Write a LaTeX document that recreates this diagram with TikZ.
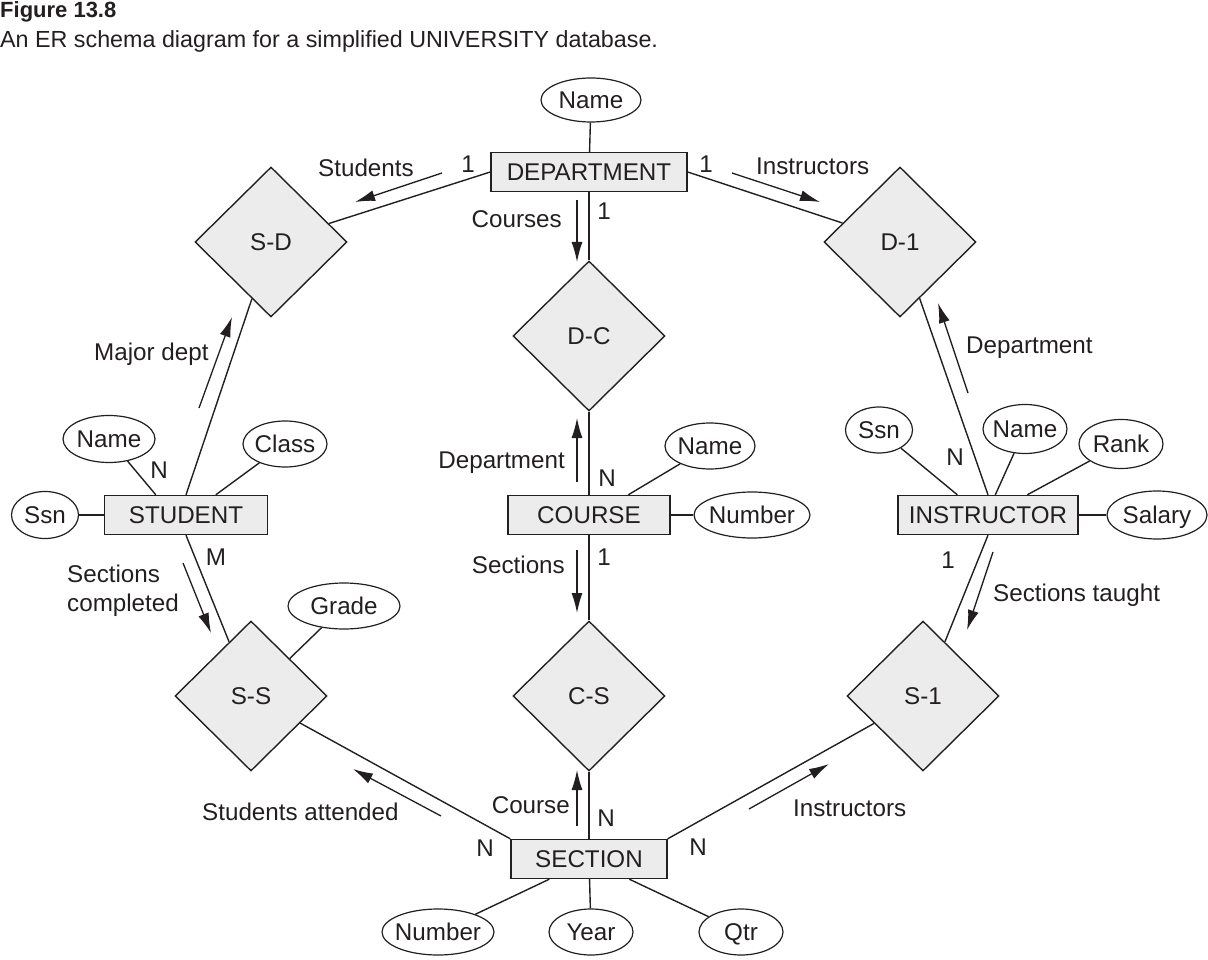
\documentclass[tikz,border=0pt]{standalone}
\usepackage{fontspec}
\setmainfont{Liberation Sans}
\usetikzlibrary{shapes.geometric,arrows.meta}
\definecolor{ink}{RGB}{35,31,32}
\definecolor{boxfill}{RGB}{236,236,236}
\begin{document}
\begin{tikzpicture}[x=1pt,y=-1pt,
  font=\fontsize{24.2}{29}\selectfont,
  ent/.style={draw=ink, fill=boxfill, line width=1.4pt, minimum height=39pt, inner sep=0pt, text height=17.3pt, text depth=0pt, text=ink},
  rel/.style={diamond, draw=ink, fill=boxfill, line width=1.4pt, minimum width=152pt, minimum height=150pt, inner sep=0pt, text height=17.3pt, text depth=0pt, text=ink},
  attr/.style={ellipse, draw=ink, fill=white, line width=1.2pt, inner sep=0pt, text height=17.3pt, text depth=0pt, text=ink},
  lbl/.style={inner sep=0pt, text height=17.3pt, text depth=0pt, text=ink},
  conn/.style={draw=ink, line width=1.4pt},
  arr/.style={draw=ink, line width=1.3pt, -{Latex[length=20pt,width=11pt]}}
]
\useasboundingbox (0,0) rectangle (1208,960);

% titles
\node[inner sep=0pt, anchor=west, text height=16pt, text depth=0pt, text=ink, font=\fontsize{22}{26}\selectfont\bfseries] (title) at (0,9.5) {Figure 13.8};
\node[inner sep=0pt, anchor=west, text height=16.7pt, text depth=0pt, text=ink, font=\fontsize{23.3}{27}\selectfont] (subtitle) at (0,39.5) {An ER schema diagram for a simplified UNIVERSITY database.};

% entities
\node[ent, minimum width=196pt] (dept) at (589,172) {DEPARTMENT};
\node[ent, minimum width=162pt] (course) at (589,515) {COURSE};
\node[ent, minimum width=156pt] (section) at (589,859) {SECTION};
\node[ent, minimum width=163pt] (student) at (186,515) {STUDENT};
\node[ent, minimum width=180pt] (instr) at (988,515) {INSTRUCTOR};

% relationships
\node[rel] (sd) at (271,242) {S-D};
\node[rel] (d1) at (900,242) {D-1};
\node[rel] (dc) at (589,336) {D-C};
\node[rel] (cs) at (589,696) {C-S};
\node[rel] (ss) at (251,696) {S-S};
\node[rel] (s1) at (923,696) {S-1};

% attributes
\node[attr, minimum width=100pt, minimum height=44pt] (dname) at (591,100) {\makebox[0pt]{Name}};
\node[attr, minimum width=92pt, minimum height=47pt] (sname) at (109,439) {\makebox[0pt]{Name}};
\node[attr, minimum width=84pt, minimum height=46pt] (sclass) at (285,444) {\makebox[0pt]{Class}};
\node[attr, minimum width=67pt, minimum height=47pt] (sssn) at (45,515) {\makebox[0pt]{Ssn}};
\node[attr, minimum width=112pt, minimum height=46pt] (grade) at (344,606) {\makebox[0pt]{Grade}};
\node[attr, minimum width=90pt, minimum height=46pt] (cname) at (710,446) {\makebox[0pt]{Name}};
\node[attr, minimum width=116pt, minimum height=46pt] (cnum) at (752,515) {\makebox[0pt]{Number}};
\node[attr, minimum width=112pt, minimum height=46pt] (snum) at (438,932) {\makebox[0pt]{Number}};
\node[attr, minimum width=84pt, minimum height=46pt] (year) at (591,932) {\makebox[0pt]{Year}};
\node[attr, minimum width=84pt, minimum height=46pt] (qtr) at (741,932) {\makebox[0pt]{Qtr}};
\node[attr, minimum width=67pt, minimum height=46pt] (issn) at (879,430) {\makebox[0pt]{Ssn}};
\node[attr, minimum width=84pt, minimum height=49pt] (iname) at (1025,429) {\makebox[0pt]{Name}};
\node[attr, minimum width=84pt, minimum height=49pt] (rank) at (1121,444) {\makebox[0pt]{Rank}};
\node[attr, minimum width=100pt, minimum height=48pt] (salary) at (1157,515) {\makebox[0pt]{Salary}};

% connectors
\draw[conn] (dname) -- (dept);
\draw[conn] (dept.west) -- (sd);
\draw[conn] (dept.east) -- (d1);
\draw[conn] (dept) -- (dc);
\draw[conn] (dc) -- (course);
\draw[conn] (course) -- (cs);
\draw[conn] (cs) -- (section);
\draw[conn] (cname) -- ([shift={(121,0)}]course.north west);
\draw[conn] (cnum) -- (course.east);
\draw[conn] (student.north) -- (sd);
\draw[conn] (student.south) -- (ss);
\draw[conn] (sname) -- ([shift={(52,0)}]student.north west);
\draw[conn] (sclass) -- ([shift={(112,0)}]student.north west);
\draw[conn] (sssn) -- (student.west);
\draw[conn] (grade) -- (ss);
\draw[conn] (section.north west) -- (ss);
\draw[conn] (section.north east) -- (s1);
\draw[conn] (instr.north) -- (d1);
\draw[conn] (instr.south) -- (s1);
\draw[conn] (issn) -- ([shift={(60,0)}]instr.north west);
\draw[conn] (iname) -- ([shift={(98,0)}]instr.north west);
\draw[conn] (rank) -- ([shift={(130,0)}]instr.north west);
\draw[conn] (salary) -- (instr.east);
\draw[conn] (snum) -- ([shift={(39,0)}]section.south west);
\draw[conn] (year) -- (section);
\draw[conn] (qtr) -- ([shift={(119,0)}]section.south west);

% direction arrows
\coordinate (a1s) at (442,173); \coordinate (a1e) at (355,202);
\coordinate (a2s) at (732,173); \coordinate (a2e) at (820,202);
\coordinate (a3s) at (577,200); \coordinate (a3e) at (577,262);
\coordinate (a4s) at (199,408); \coordinate (a4e) at (232,317);
\coordinate (a5s) at (968,393); \coordinate (a5e) at (938,303);
\coordinate (a6s) at (577,482); \coordinate (a6e) at (577,418);
\coordinate (a7s) at (577,550); \coordinate (a7e) at (577,613);
\coordinate (a8s) at (183,563); \coordinate (a8e) at (211,633);
\coordinate (a9s) at (993,552); \coordinate (a9e) at (967,630);
\coordinate (a10s) at (577,826); \coordinate (a10e) at (577,770);
\coordinate (a11s) at (441,816); \coordinate (a11e) at (353,769);
\coordinate (a12s) at (749,809); \coordinate (a12e) at (829,764);
\draw[arr] (a1s) -- (a1e);
\draw[arr] (a2s) -- (a2e);
\draw[arr] (a3s) -- (a3e);
\draw[arr] (a4s) -- (a4e);
\draw[arr] (a5s) -- (a5e);
\draw[arr] (a6s) -- (a6e);
\draw[arr] (a7s) -- (a7e);
\draw[arr] (a8s) -- (a8e);
\draw[arr] (a9s) -- (a9e);
\draw[arr] (a10s) -- (a10e);
\draw[arr] (a11s) -- (a11e);
\draw[arr] (a12s) -- (a12e);

% role labels
\node[lbl, anchor=west] (lstud) at (318,168) {Students};
\node[lbl, anchor=west] (linstr) at (756,166) {Instructors};
\node[lbl, anchor=east] (lcourses) at (562,219) {Courses};
\node[lbl, anchor=west] (lmajor) at (94,352) {Major dept};
\node[lbl, anchor=west] (ldeptr) at (966,345) {Department};
\node[lbl, anchor=east] (ldeptm) at (565,460) {Department};
\node[lbl, anchor=east] (lsections) at (565,565) {Sections};
\node[lbl, anchor=west, align=left, text height=, text depth=] (lsecc) at (67,591) {Sections\\completed};
\node[lbl, anchor=west] (lsect) at (993,593) {Sections taught};
\node[lbl, anchor=east] (lcourse) at (570,805) {Course};
\node[lbl, anchor=west] (lsatt) at (202,812) {Students attended};
\node[lbl, anchor=west] (linstb) at (793,808) {Instructors};

% cardinalities
\node[lbl] (c1) at (468,164) {1};
\node[lbl] (c2) at (706,164) {1};
\node[lbl] (c3) at (604,211) {1};
\node[lbl] (c4) at (607,478) {N};
\node[lbl] (c5) at (604,557) {1};
\node[lbl] (c6) at (159,470) {N};
\node[lbl] (c7) at (216,557) {M};
\node[lbl] (c8) at (955,457) {N};
\node[lbl] (c9) at (948,560) {1};
\node[lbl] (c10) at (606,818) {N};
\node[lbl] (c11) at (485,848) {N};
\node[lbl] (c12) at (698,847) {N};
\end{tikzpicture}
\end{document}
